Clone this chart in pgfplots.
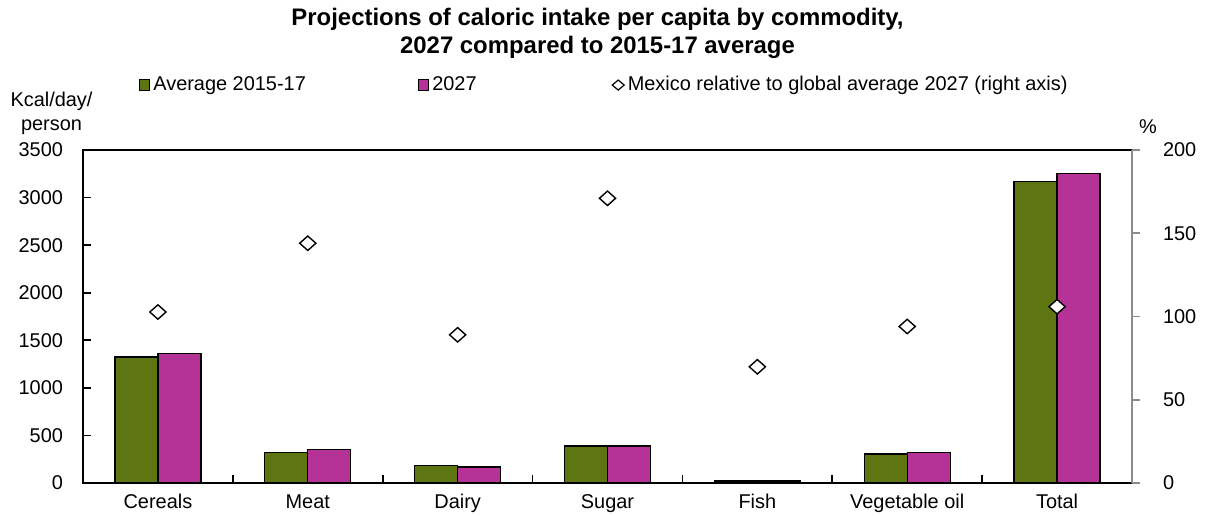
\documentclass[border=0pt]{standalone}
\usepackage{fontspec}
\setmainfont{Liberation Sans}
\usepackage{pgfplots}
\pgfplotsset{compat=1.18}
\definecolor{olivebar}{RGB}{94,118,18}
\definecolor{magbar}{RGB}{181,50,150}
\definecolor{axisgray}{RGB}{140,140,140}
\begin{document}
\begin{tikzpicture}[font=\fontsize{10}{12}\selectfont]
\begin{axis}[
    scale only axis,
    width=524.5bp, height=166.5bp,
    clip=false,
    xmin=-0.5, xmax=6.5,
    ymin=0, ymax=3500,
    ybar=0pt, bar width=21.5bp,
    ytick={0,500,...,3500},
    xtick={0,...,6},
    xticklabels={Cereals,Meat,Dairy,Sugar,Fish,Vegetable oil,Total},
    xticklabel style={text height=0.75em, text depth=0.22em, yshift=-6bp},
    yticklabel style={xshift=-10.5bp},
    major x tick style={draw=none},
    extra x ticks={0.5,1.5,...,5.5},
    extra x tick labels={},
    extra x tick style={major x tick style={draw=black, line width=0.8pt}},
    tick align=outside,
    major tick length=-4bp,
    xtick pos=bottom, ytick pos=left,
    axis line style={line width=0.8pt},
    tick style={line width=0.8pt, black},
    /pgf/number format/assume math mode=true,
    /pgf/number format/set thousands separator={},
    legend columns=3,
    legend style={at={(0.053,1.195)}, anchor=west, draw=none, fill=none,
        inner sep=0pt, nodes={inner sep=1.5bp},
        /tikz/column 2/.style={column sep=54.5bp},
        /tikz/column 4/.style={column sep=66bp}},
]
\addplot[forget plot, fill=olivebar, draw=black, line width=0.6pt, bar shift=-10.75bp]
    coordinates {(0,1325) (1,319) (2,186) (3,389) (4,22) (5,305) (6,3168)};
\addplot[forget plot, fill=magbar, draw=black, line width=0.6pt, bar shift=10.75bp]
    coordinates {(0,1364) (1,354) (2,168) (3,389) (4,20) (5,322) (6,3256)};
\addlegendimage{legend image code/.code={\draw[fill=olivebar, draw=black, line width=0.5pt] (0bp,-2.6bp) rectangle (5.2bp,2.6bp);}}
\addlegendentry{Average 2015-17}
\addlegendimage{legend image code/.code={\draw[fill=magbar, draw=black, line width=0.5pt] (0bp,-2.6bp) rectangle (5.2bp,2.6bp);}}
\addlegendentry{2027}
\addlegendimage{legend image code/.code={\draw[fill=white, draw=black, line width=0.6pt] (0bp,0bp) -- (3bp,2.5bp) -- (6bp,0bp) -- (3bp,-2.5bp) -- cycle;}}
\addlegendentry{Mexico relative to global average 2027 (right axis)}
\node[align=center] at (axis description cs:0,1) [xshift=-15.75bp, yshift=18.5bp] {Kcal/day/\\person};
\node[align=center, font=\fontsize{12}{14}\selectfont\bfseries] at (axis description cs:0.4905,1.35)
    {Projections of caloric intake per capita by commodity,\\2027 compared to 2015-17 average};
\end{axis}
\begin{axis}[
    scale only axis,
    width=524.5bp, height=166.5bp,
    clip=false,
    xmin=-0.5, xmax=6.5,
    ymin=0, ymax=200,
    axis x line=none,
    axis y line*=right,
    ytick={0,50,...,200},
    tick align=outside,
    major tick length=4bp,
    y axis line style={axisgray, line width=0.8pt},
    ytick style={axisgray, line width=0.8pt},
    /pgf/number format/assume math mode=true,
    yticklabel style={black, xshift=8bp},
]
\addplot[only marks, mark=diamond*, mark size=3.6bp,
    mark options={fill=white, draw=black, line width=0.7pt, xscale=1.5}]
    coordinates {(0,102.7) (1,144) (2,89) (3,171) (4,69.8) (5,94) (6,105.9)};
\node at (axis description cs:1,1) [xshift=8bp, yshift=11.5bp] {\%};
\coordinate (bl) at (axis description cs:0,0);
\coordinate (tr) at (axis description cs:1,1);
\end{axis}
\pgfresetboundingbox
\path[use as bounding box] ([shift={(-41.5bp,-16.5bp)}]bl) rectangle ([shift={(36.5bp,75bp)}]tr);
\end{tikzpicture}
\end{document}
